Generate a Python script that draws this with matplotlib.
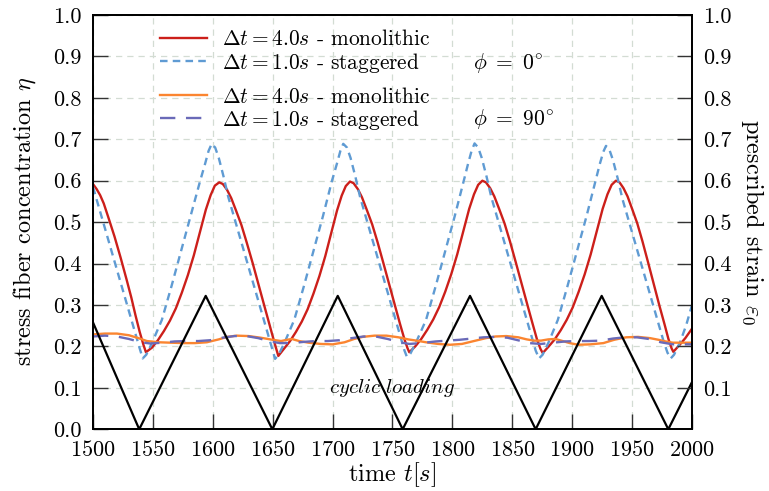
import numpy as np
import matplotlib.pyplot as plt
from matplotlib.ticker import FormatStrFormatter

# Schrift wie LaTeX (Computer Modern)
plt.rcParams['font.family'] = ['cmr10', 'DejaVu Serif']
plt.rcParams['mathtext.fontset'] = 'cm'
plt.rcParams['axes.formatter.use_mathtext'] = True
plt.rcParams['font.size'] = 15

# monolithisch, phi = 0
t_mono0 = [1500, 1503, 1506, 1509, 1513, 1518, 1523, 1528, 1532, 1535.5, 1539, 1542, 1544.2,
           1549.2, 1554.2, 1559.2, 1564.2, 1569.2, 1574.2, 1579.2, 1584.2, 1589.2, 1594.2, 1598.2, 1601.7, 1605.4,
           1608.4, 1611.9, 1615.4, 1619.4, 1623.9, 1628.4, 1633.4, 1638.4, 1643.4, 1647.4, 1650.9, 1653.4, 1654.7,
           1659.6, 1664.5, 1669.4, 1674.3, 1679.2, 1684.1, 1689, 1693.9, 1698.8, 1703.7, 1707.6, 1711, 1714.5,
           1717.5, 1721, 1724.5, 1728.5, 1733, 1737.5, 1742.5, 1747.5, 1752.5, 1756.5, 1760, 1762.5, 1764,
           1769, 1774, 1779, 1784, 1789, 1794, 1799, 1804, 1809, 1814, 1818, 1821.5, 1825,
           1828, 1831.5, 1835, 1839, 1843.5, 1848, 1853, 1858, 1863, 1867, 1870.5, 1873.5, 1875.4,
           1880.4, 1885.4, 1890.4, 1895.4, 1900.4, 1905.4, 1910.4, 1915.4, 1920.4, 1925.4, 1929.4, 1932.9, 1936.5,
           1939.5, 1942.8, 1946.2, 1950, 1954.3, 1958.6, 1963.4, 1968.2, 1973, 1977, 1980.3, 1983, 1984.4,
           1989.4, 1994.4, 2000]
y_mono0 = [0.592, 0.58, 0.565, 0.545, 0.51, 0.465, 0.415, 0.362, 0.318, 0.275, 0.235, 0.205, 0.186,
           0.197, 0.215, 0.237, 0.262, 0.292, 0.33, 0.372, 0.42, 0.475, 0.53, 0.565, 0.588, 0.596,
           0.592, 0.578, 0.558, 0.528, 0.493, 0.45, 0.4, 0.347, 0.294, 0.252, 0.215, 0.19, 0.177,
           0.195, 0.213, 0.235, 0.26, 0.29, 0.328, 0.37, 0.418, 0.473, 0.528, 0.564, 0.587, 0.598,
           0.594, 0.58, 0.56, 0.53, 0.495, 0.452, 0.4, 0.347, 0.294, 0.252, 0.217, 0.196, 0.186,
           0.2, 0.218, 0.24, 0.265, 0.295, 0.332, 0.374, 0.422, 0.477, 0.532, 0.567, 0.59, 0.6,
           0.596, 0.582, 0.562, 0.532, 0.497, 0.454, 0.402, 0.349, 0.296, 0.254, 0.218, 0.194, 0.184,
           0.2, 0.217, 0.239, 0.264, 0.294, 0.332, 0.374, 0.422, 0.477, 0.532, 0.567, 0.59, 0.6,
           0.596, 0.582, 0.562, 0.532, 0.497, 0.454, 0.402, 0.349, 0.296, 0.254, 0.218, 0.195, 0.187,
           0.203, 0.22, 0.243]

# gestaffelt, phi = 0
t_stag0 = [1500, 1506, 1512, 1518, 1524, 1530, 1535, 1538.5, 1541.5,
           1544.5, 1549.5, 1557.5, 1565.5, 1573.5, 1581.5, 1589.5, 1593.5, 1596.5, 1599.1,
           1602, 1605, 1609, 1613, 1619, 1627, 1635, 1642, 1647, 1650, 1652,
           1655, 1660, 1668, 1676, 1684, 1692, 1699.5, 1703.5, 1706.5, 1708.9,
           1712, 1715, 1719, 1723, 1729, 1737, 1745, 1752, 1757, 1760, 1762,
           1765, 1770, 1778, 1786, 1794, 1802, 1809.5, 1813, 1816, 1818.5,
           1821.5, 1824.5, 1828.5, 1832.5, 1838.5, 1846.5, 1854.5, 1861.5, 1866.5, 1869.5, 1872.3,
           1875.3, 1880.3, 1888, 1896, 1904, 1912, 1919.5, 1923, 1926, 1928.2,
           1931, 1934, 1938, 1942, 1948, 1956, 1964, 1971, 1976, 1979.5, 1982.2,
           1985, 1990, 1995, 2000]
y_stag0 = [0.585, 0.525, 0.465, 0.405, 0.345, 0.285, 0.235, 0.2, 0.171,
           0.18, 0.21, 0.264, 0.345, 0.43, 0.515, 0.6, 0.64, 0.672, 0.689,
           0.68, 0.655, 0.61, 0.56, 0.5, 0.42, 0.34, 0.27, 0.22, 0.19, 0.17,
           0.18, 0.21, 0.264, 0.345, 0.43, 0.515, 0.6, 0.64, 0.672, 0.689,
           0.68, 0.655, 0.61, 0.56, 0.5, 0.42, 0.34, 0.27, 0.22, 0.19, 0.175,
           0.183, 0.212, 0.264, 0.345, 0.43, 0.515, 0.6, 0.64, 0.672, 0.69,
           0.68, 0.655, 0.61, 0.56, 0.5, 0.42, 0.34, 0.27, 0.22, 0.19, 0.171,
           0.18, 0.21, 0.264, 0.345, 0.43, 0.515, 0.6, 0.64, 0.67, 0.684,
           0.675, 0.65, 0.605, 0.555, 0.495, 0.415, 0.335, 0.265, 0.215, 0.185, 0.171,
           0.18, 0.21, 0.25, 0.3]

# monolithisch, phi = 90
t_mono90 = [1500, 1510, 1520, 1530, 1538, 1545, 1555, 1565, 1575, 1585, 1595, 1605, 1612, 1620,
            1630, 1640, 1650, 1657, 1662, 1666, 1672, 1680, 1690, 1700, 1710, 1718, 1725, 1735,
            1745, 1755, 1763, 1770, 1778, 1788, 1798, 1808, 1818, 1828, 1836, 1845, 1855, 1862,
            1868, 1874, 1880, 1886, 1892, 1898, 1905, 1915, 1926, 1935, 1945, 1955, 1965, 1972,
            1978, 1984, 1992, 2000]
y_mono90 = [0.229, 0.231, 0.231, 0.227, 0.22, 0.213, 0.21, 0.209, 0.208, 0.208, 0.21, 0.217, 0.223, 0.226,
            0.225, 0.221, 0.216, 0.213, 0.216, 0.218, 0.213, 0.209, 0.206, 0.205, 0.21, 0.218, 0.223, 0.226,
            0.226, 0.222, 0.217, 0.214, 0.21, 0.206, 0.204, 0.206, 0.213, 0.22, 0.224, 0.225, 0.222, 0.217,
            0.214, 0.214, 0.217, 0.218, 0.213, 0.208, 0.204, 0.205, 0.208, 0.216, 0.222, 0.223, 0.22, 0.216,
            0.212, 0.209, 0.209, 0.209]

# gestaffelt, phi = 90
t_stag90 = [1500, 1510, 1520, 1530, 1540, 1548, 1558, 1568, 1578, 1588, 1598, 1608, 1618, 1628,
            1638, 1648, 1656, 1666, 1676, 1686, 1696, 1706, 1716, 1726, 1736, 1746, 1756, 1764,
            1774, 1786, 1796, 1806, 1816, 1826, 1836, 1846, 1856, 1864, 1874, 1884, 1894, 1904,
            1914, 1924, 1934, 1944, 1954, 1964, 1974, 1984, 1992, 2000]
y_stag90 = [0.224, 0.226, 0.224, 0.218, 0.21, 0.207, 0.209, 0.212, 0.213, 0.213, 0.215, 0.221, 0.225, 0.225,
            0.22, 0.212, 0.208, 0.208, 0.211, 0.213, 0.213, 0.215, 0.22, 0.224, 0.224, 0.218, 0.21, 0.206,
            0.208, 0.212, 0.214, 0.216, 0.219, 0.222, 0.223, 0.221, 0.214, 0.208, 0.206, 0.209, 0.212, 0.213,
            0.213, 0.214, 0.219, 0.222, 0.222, 0.218, 0.21, 0.205, 0.205, 0.205]

# vorgegebene Dehnung (Dreieck)
t_load = [1500, 1538.6, 1594.1, 1649.7, 1704.3, 1758.5, 1814.7, 1869.5, 1924.6, 1980.2, 2000]
y_load = [0.258, 0.0, 0.322, 0.0, 0.322, 0.0, 0.322, 0.0, 0.322, 0.0, 0.114]

fig = plt.figure(figsize=(7.69, 4.91), dpi=100)
ax = fig.add_axes([0.1209, 0.1257, 0.779, 0.8438])

ax.grid(True, ls=(0, (5, 4)), color='#d3dcd3', lw=0.9)
ax.set_axisbelow(True)

l1, = ax.plot(t_mono0, y_mono0, color='#cc1f1a', lw=1.7, label=r'$\Delta t = 4.0s$ - monolithic')
l2, = ax.plot(t_stag0, y_stag0, color='#5f9bd3', lw=1.7, ls=(0, (3.2, 2.2)), label=r'$\Delta t = 1.0s$ - staggered')
l3, = ax.plot(t_mono90, y_mono90, color='#fb8530', lw=1.7, label=r'$\Delta t = 4.0s$ - monolithic')
l4, = ax.plot(t_stag90, y_stag90, color='#6a6ab8', lw=1.7, ls=(0, (6.5, 4.5)), label=r'$\Delta t = 1.0s$ - staggered')
ax.plot(t_load, y_load, color='black', lw=1.6)

ax.set_xlim(1500, 2000)
ax.set_ylim(0, 1)
ax.set_xticks(np.arange(1500, 2001, 50))
ax.set_yticks(np.arange(0, 1.01, 0.1))
ax.yaxis.set_major_formatter(FormatStrFormatter('%.1f'))
ax.tick_params(direction='in', length=11, width=1.0, color='#333333', pad=8, labelsize=16)

for s in ax.spines.values():
    s.set_linewidth(1.3)

ax2 = ax.twinx()
ax2.set_ylim(0, 1)
ax2.set_yticks(np.arange(0.1, 1.01, 0.1))
ax2.yaxis.set_major_formatter(FormatStrFormatter('%.1f'))
ax2.tick_params(direction='in', length=11, width=1.0, color='#333333', pad=8, labelsize=16)
for s in ax2.spines.values():
    s.set_linewidth(1.3)

# Achsentitel
fig.text(0.5103, 0.034, r'time $t[s]$', fontsize=17.5, ha='center', va='center')
fig.text(0.0325, 0.548, r'stress fiber concentration $\eta$', fontsize=17.5, rotation=90,
         ha='center', va='center')
fig.text(0.978, 0.548, r'prescribed strain $\varepsilon_0$', fontsize=17.5, rotation=270,
         ha='center', va='center')

leg1 = ax.legend(handles=[l1, l2], loc='upper left', bbox_to_anchor=(0.112, 0.965), frameon=False,
                 borderpad=0, borderaxespad=0, handlelength=2.2, handletextpad=0.7, labelspacing=0.05,
                 fontsize=15.4)
ax.add_artist(leg1)
ax.legend(handles=[l3, l4], loc='upper left', bbox_to_anchor=(0.112, 0.827), frameon=False,
          borderpad=0, borderaxespad=0, handlelength=2.2, handletextpad=0.7, labelspacing=0.05,
          fontsize=15.4)

ax.text(1817, 0.885, r'$\phi\ =\ 0^{\circ}$', fontsize=15.5, va='center')
ax.text(1817, 0.748, r'$\phi\ =\ 90^{\circ}$', fontsize=15.5, va='center')
ax.text(1750, 0.10, r'$cyclic\ loading$', fontsize=15, ha='center', va='center')

plt.savefig('out.png', dpi=100)
